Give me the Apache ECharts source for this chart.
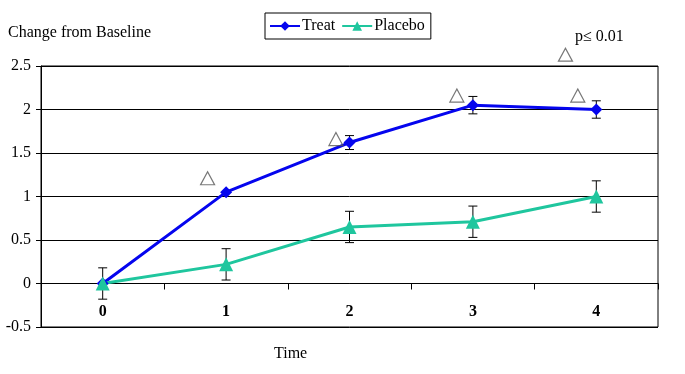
<!DOCTYPE html>
<html><head><meta charset="utf-8">
<script src="https://cdn.jsdelivr.net/npm/echarts@6/dist/echarts.min.js"></script>
<style>html,body{margin:0;padding:0;background:#fff}#c{width:685px;height:374px}</style>
</head><body><div id="c"></div>
<script>
const categories = ['0','1','2','3','4'];
const treat = [0, 1.05, 1.62, 2.05, 2.0];
const treatErr = [0, 0, 0.08, 0.1, 0.1];
const placebo = [0, 0.22, 0.65, 0.71, 1.0];
const placeboErr = [0.18, 0.18, 0.18, 0.18, 0.18];
const sigMarks = [[0.85, 1.21], [1.89, 1.66], [2.87, 2.16], [3.85, 2.16], [3.75, 2.63]];

const font = '"Liberation Serif", "Times New Roman", serif';
const chart = echarts.init(document.getElementById('c'));

function errData(vals, errs){
  return vals.map((v,i)=>[i, v-errs[i], v+errs[i]]).filter((d,i)=>errs[i]>0);
}
function errRender(params, api){
  const x = api.value(0);
  const lo = api.coord([x, api.value(1)]);
  const hi = api.coord([x, api.value(2)]);
  const w = 4.5;
  const st = {stroke:'#000', lineWidth:1};
  return {type:'group', children:[
    {type:'line', shape:{x1:lo[0],y1:lo[1],x2:hi[0],y2:hi[1]}, style:st},
    {type:'line', shape:{x1:lo[0]-w,y1:lo[1],x2:lo[0]+w,y2:lo[1]}, style:st},
    {type:'line', shape:{x1:hi[0]-w,y1:hi[1],x2:hi[0]+w,y2:hi[1]}, style:st}
  ]};
}

chart.setOption({
  animation:false,
  textStyle:{fontFamily:font},
  grid:{left:41, right:27, top:66, bottom:47, show:true, borderColor:'#000', borderWidth:1},
  title:[
    {text:'Change from Baseline', left:3, top:20, textStyle:{fontFamily:font, fontSize:16, fontWeight:'normal', color:'#000'}},
    {text:'Time', left:269, top:341, textStyle:{fontFamily:font, fontSize:16, fontWeight:'normal', color:'#000'}},
    {text:'p\u2264 0.01', left:570, top:24, textStyle:{fontFamily:font, fontSize:16, fontWeight:'normal', color:'#000'}}
  ],
  legend:{
    data:['Treat','Placebo'], left:265, top:13, itemWidth:30, itemHeight:12, itemGap:6,
    borderColor:'#000', borderWidth:1, padding:[5,6,5,4],
    textStyle:{fontFamily:font, fontSize:16, color:'#000', padding:[0,0,0,-3]}
  },
  xAxis:[
    {type:'category', data:categories, boundaryGap:true, offset:-43.5,
     axisLine:{onZero:false, lineStyle:{color:'#000'}},
     axisTick:{show:true, alignWithLabel:false, interval:0, length:6, lineStyle:{color:'#000'}},
     axisLabel:{margin:20, fontFamily:font, fontSize:16, fontWeight:'bold', color:'#000'},
     splitLine:{show:false}},
    {type:'value', min:-0.5, max:4.5, show:false}
  ],
  yAxis:{type:'value', min:-0.5, max:2.5, interval:0.5,
    axisLine:{show:true, onZero:false, lineStyle:{color:'#000'}},
    axisTick:{show:true, length:5, lineStyle:{color:'#000'}},
    axisLabel:{margin:10, fontFamily:font, fontSize:16, color:'#000', formatter:v=>String(v)},
    splitLine:{show:true, lineStyle:{color:'#000', width:1}}
  },
  series:[
    {type:'custom', renderItem:errRender, data:errData(treat, treatErr), z:2, encode:{x:0, y:[1,2]}},
    {type:'custom', renderItem:errRender, data:errData(placebo, placeboErr), z:2, encode:{x:0, y:[1,2]}},
    {name:'Treat', type:'line', data:treat, symbol:'diamond', symbolSize:12,
     lineStyle:{color:'#0505ee', width:3}, itemStyle:{color:'#0505ee'}, z:3},
    {name:'Placebo', type:'line', data:placebo, symbol:'triangle', symbolSize:14,
     lineStyle:{color:'#1fc69e', width:3}, itemStyle:{color:'#1fc69e'}, z:3},
    {type:'scatter', xAxisIndex:1, data:sigMarks, symbol:'triangle', symbolSize:[14,13], clip:false,
     itemStyle:{color:'rgba(0,0,0,0)', borderColor:'#555', borderWidth:1.2}, z:5}
  ]
});
</script></body></html>
